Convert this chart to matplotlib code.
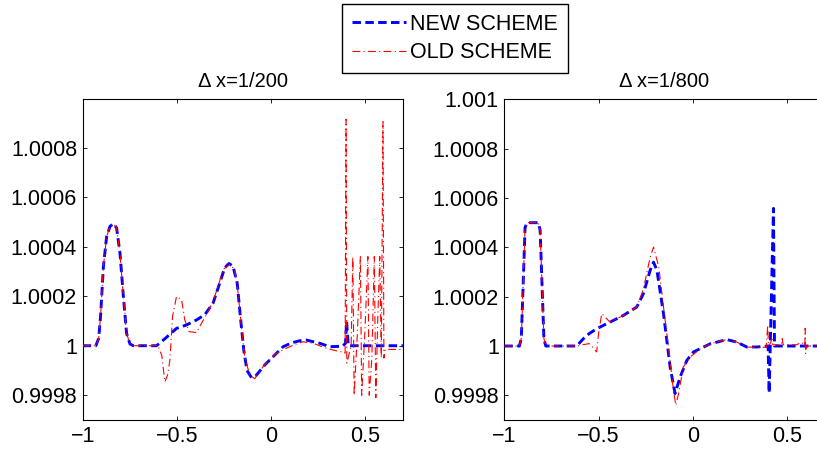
import matplotlib.pyplot as plt

plt.rcParams['font.family'] = ['Liberation Sans', 'DejaVu Sans']
plt.rcParams['font.size'] = 15.5

# left panel, dx = 1/200
x_new_200 = [-1.0, -0.93, -0.915, -0.905, -0.89, -0.873, -0.855, -0.837, -0.82, -0.802,
             -0.784, -0.767, -0.749, -0.73, -0.608, -0.555, -0.502, -0.449, -0.396, -0.352,
             -0.308, -0.272, -0.246, -0.223, -0.202, -0.18, -0.163, -0.145, -0.128, -0.104,
             -0.078, -0.034, 0.019, 0.064, 0.11, 0.152, 0.187, 0.23, 0.258, 0.311,
             0.38, 0.395, 0.401, 0.41, 0.7]
y_new_200 = [1.0, 1.0, 1.00003, 1.00012, 1.00032, 1.00044, 1.000482, 1.000493, 1.000476, 1.000374,
             1.000199, 1.00005, 1.000007, 1.0, 1.0, 1.000034, 1.00007, 1.000084, 1.000104, 1.000125,
             1.000172, 1.000254, 1.000315, 1.000332, 1.000321, 1.000254, 1.000118, 0.999983, 0.999901, 0.999871,
             0.999881, 0.999922, 0.999962, 0.999996, 1.000012, 1.00002, 1.000023, 1.000015, 1.00001, 0.999996,
             0.999998, 1.00001, 1.000098, 1.0, 1.0]

x_old_200 = [-1.0, -0.93, -0.915, -0.905, -0.89, -0.873, -0.855, -0.837, -0.82, -0.802,
             -0.784, -0.767, -0.749, -0.73, -0.6, -0.58, -0.564, -0.55, -0.537, -0.523,
             -0.502, -0.475, -0.458, -0.435, -0.396, -0.369, -0.334, -0.308, -0.281, -0.255,
             -0.219, -0.193, -0.175, -0.157, -0.14, -0.113, -0.087, -0.043, 0.028, 0.081,
             0.13, 0.17, 0.223, 0.293, 0.364, 0.385,
             0.393, 0.398, 0.402, 0.425, 0.434, 0.441, 0.458, 0.474, 0.481, 0.497,
             0.514, 0.521, 0.535, 0.548, 0.556, 0.566, 0.577, 0.585, 0.594, 0.599,
             0.606, 0.7]
y_old_200 = [1.0, 1.0, 1.00003, 1.00012, 1.00032, 1.00044, 1.000482, 1.000493, 1.000476, 1.000374,
             1.000199, 1.00005, 1.000007, 1.0, 1.0, 0.99996, 0.999854, 0.99988, 0.999942, 1.000118,
             1.000199, 1.000186, 1.000104, 1.000057, 1.000053, 1.000091, 1.000138, 1.000179, 1.00024, 1.000308,
             1.000328, 1.000308, 1.000213, 1.000077, 0.999955, 0.999881, 0.999867, 0.999915, 0.999969, 0.99999,
             1.000006, 1.000016, 1.00001, 0.99999, 0.999976, 0.999975,
             0.99997, 1.000915, 0.99993, 1.0, 1.00036, 0.9998, 1.00005, 1.00036, 0.9998, 1.00004,
             1.00036, 0.9998, 0.99995, 1.00036, 0.99979, 1.0001, 1.00036, 0.99995, 1.000905, 0.99995,
             0.999985, 0.999985]

# right panel, dx = 1/800
x_new_800 = [-1.0, -0.92, -0.91, -0.9, -0.89, -0.88, -0.82, -0.81, -0.8, -0.79,
             -0.78, -0.616, -0.58, -0.55, -0.51, -0.439, -0.368, -0.297, -0.262, -0.226,
             -0.208, -0.19, -0.155, -0.12, -0.094, -0.067, -0.031, 0.004, 0.093, 0.181,
             0.234, 0.287, 0.34, 0.4, 0.4057, 0.4286, 0.434, 0.7]
y_new_800 = [1.0, 1.0, 1.00003, 1.00025, 1.00048, 1.0005, 1.0005, 1.00047, 1.00025, 1.00003,
             1.0, 1.0, 1.00003, 1.00005, 1.00007, 1.000097, 1.000124, 1.000158, 1.000212, 1.000307,
             1.00034, 1.000307, 1.000131, 0.999915, 0.999807, 0.999874, 0.999942, 0.999976, 1.000009, 1.000026,
             1.000016, 0.999996, 0.999996, 1.0, 0.99981, 1.000558, 1.0, 1.0]

x_old_800 = [-1.0, -0.92, -0.91, -0.9, -0.89, -0.88, -0.82, -0.81, -0.8, -0.79,
             -0.78, -0.616, -0.55, -0.536, -0.51, -0.5, -0.483, -0.465, -0.44, -0.368,
             -0.297, -0.262, -0.226, -0.208, -0.18, -0.155, -0.129, -0.102, -0.09, -0.075,
             -0.05, -0.014, 0.05, 0.12, 0.181, 0.234, 0.287, 0.34, 0.39, 0.398,
             0.402, 0.415, 0.42, 0.425, 0.47, 0.475, 0.48, 0.55, 0.58, 0.595,
             0.597, 0.599, 0.605, 0.7]
y_old_800 = [1.0, 1.0, 1.00003, 1.00025, 1.00048, 1.0005, 1.0005, 1.00047, 1.00025, 1.00003,
             1.0, 1.0, 1.00001, 1.0, 0.999976, 1.00005, 1.000131, 1.000118, 1.000097, 1.000124,
             1.000158, 1.00023, 1.00036, 1.000401, 1.00032, 1.000158, 0.999996, 0.99982, 0.99976, 0.999807,
             0.999915, 0.999955, 0.999995, 1.000015, 1.000026, 1.000016, 0.999996, 0.999994, 0.999995, 1.000084,
             1.0, 1.000015, 1.000036, 1.000005, 1.000005, 1.00003, 1.000005, 1.000005, 1.000015, 1.0,
             1.000072, 0.99997, 1.0, 1.0]

titles = ['\u0394 x=1/200', '\u0394 x=1/800']
yticks_left = [0.9998, 1.0, 1.0002, 1.0004, 1.0006, 1.0008]
yticks_right = [0.9998, 1.0, 1.0002, 1.0004, 1.0006, 1.0008, 1.001]
xticks = [-1, -0.5, 0, 0.5]
xtick_labels = ['\u22121', '\u22120.5', '0', '0.5']

fig = plt.figure(figsize=(8.17, 4.51), dpi=100)
ax1 = fig.add_axes([0.1012, 0.0687, 0.392, 0.711])
ax2 = fig.add_axes([0.6173, 0.0687, 0.392, 0.711])

panels = [(ax1, x_new_200, y_new_200, x_old_200, y_old_200, yticks_left, 1.000995),
          (ax2, x_new_800, y_new_800, x_old_800, y_old_800, yticks_right, 1.001)]
for i, (ax, xn, yn, xo, yo, yt, ytop) in enumerate(panels):
    ln1, = ax.plot(xn, yn, color='#0000ff', lw=2.1, dashes=(2.9, 1.5), zorder=3)
    ln2, = ax.plot(xo, yo, color='#ff0000', lw=0.8, dashes=(7, 3, 1, 3), zorder=4)
    ax.set_xlim(-1, 0.7)
    ax.set_ylim(0.9997, ytop)
    ax.set_xticks(xticks)
    ax.set_xticklabels(xtick_labels)
    ax.set_yticks(yt)
    ax.set_yticklabels(['%g' % v for v in yt])
    ax.tick_params(direction='in', top=True, right=True, length=3, width=0.6, pad=4,
                   labelsize=15.5)
    for s in ax.spines.values():
        s.set_linewidth(0.8)
    ax.set_title(titles[i], fontsize=14.5, pad=9)

fig.legend([ln1, ln2], ['NEW SCHEME', 'OLD SCHEME'], loc='center',
           bbox_to_anchor=(0.557, 0.915), fontsize=15.5, fancybox=False,
           framealpha=1, edgecolor='black', handlelength=2.5, handletextpad=0.2,
           borderpad=0.45, labelspacing=0.35, borderaxespad=0)

fig.savefig('out.png', dpi=100)
